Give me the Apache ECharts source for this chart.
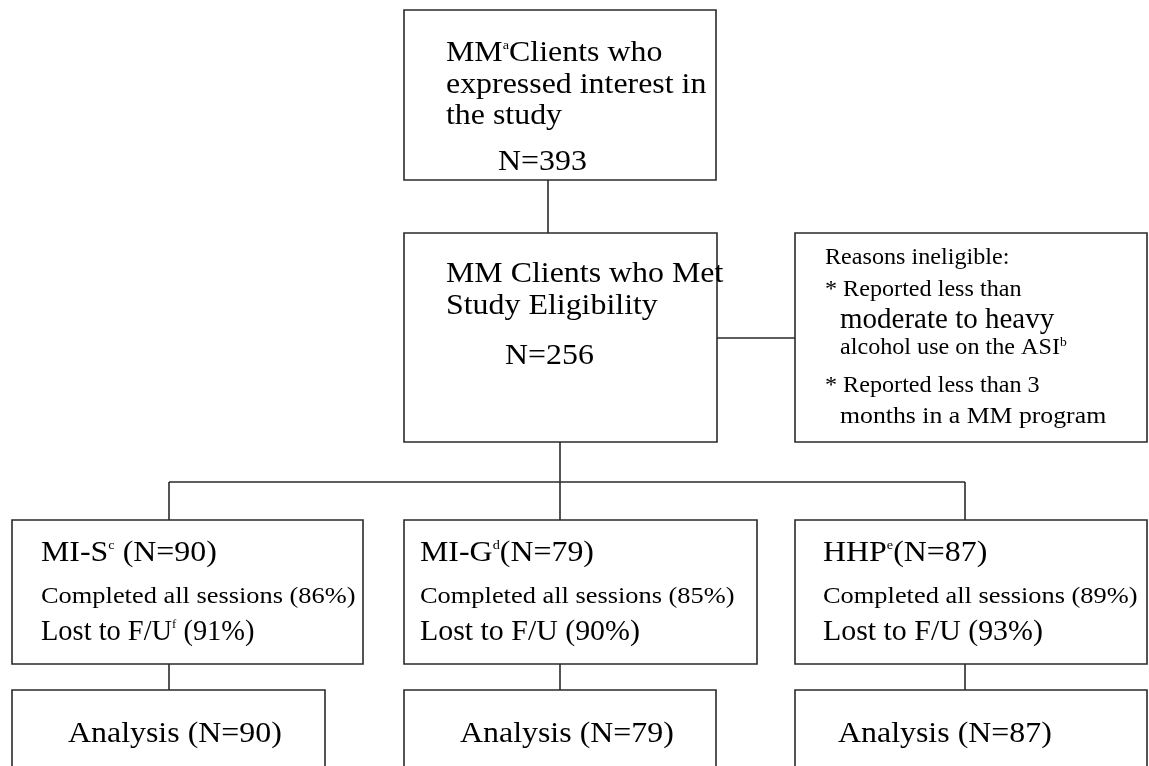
<!DOCTYPE html>
<html>
<head>
<meta charset="utf-8">
<script src="https://cdn.jsdelivr.net/npm/echarts@6/dist/echarts.min.js"></script>
<style>
  html, body { margin: 0; padding: 0; background: #fff; }
  #main { width: 1149px; height: 766px; }
</style>
</head>
<body>
<div id="main"></div>
<script>
// flow numbers
var screenedN = 393;
var eligibleN = 256;
var arms = ['MI-S', 'MI-G', 'HHP'];
var armSup = ['c', 'd', 'e'];
var armN = [90, 79, 87];
var completedPct = [86, 85, 89];
var lostPct = [91, 90, 93];
var analysisN = [90, 79, 87];
var reasons = ['Reasons ineligible:', '* Reported less than', 'moderate to heavy',
  'alcohol use on the ASI', '* Reported less than 3', 'months in a MM program'];

var dom = document.getElementById('main');
var myChart = echarts.init(dom, null, { renderer: 'canvas' });

var FONT = '"Liberation Serif", "Times New Roman", serif';
var INK = '#000';
var EDGE = '#2a2a2a';
var SX = 1.1; // reference type is a bit wider than Times

var rich = {
  m: { fontFamily: FONT, fontSize: 29, color: INK },
  s: { fontFamily: FONT, fontSize: 13, color: INK, padding: [0, 0, 14, 0] },
  r: { fontFamily: FONT, fontSize: 24, color: INK },
  q: { fontFamily: FONT, fontSize: 23, color: INK },
  qs: { fontFamily: FONT, fontSize: 13, color: INK, padding: [0, 0, 10, 0] },
  big: { fontFamily: FONT, fontSize: 29, color: INK }
};

function box(x, y, w, h) {
  return { type: 'rect', shape: { x: x, y: y, width: w, height: h },
    style: { fill: '#fff', stroke: EDGE, lineWidth: 1.6 } };
}
function line(x1, y1, x2, y2) {
  return { type: 'line', shape: { x1: x1, y1: y1, x2: x2, y2: y2 },
    style: { stroke: EDGE, lineWidth: 1.6 } };
}
function txt(x, y, s, sx) {
  return { type: 'text', x: x, y: y, scaleX: sx || SX,
    style: { text: s, rich: rich, fill: INK, font: '29px ' + FONT, align: 'left', verticalAlign: 'middle' } };
}

var g = [];
// connectors
g.push(line(548, 180, 548, 233));
g.push(line(717, 338, 795, 338));
g.push(line(560, 442, 560, 482));
g.push(line(169, 482, 965, 482));

var armX = [12, 404, 795];
var armW = [351, 353, 352];
var armMid = [169, 560, 965];
var armPad = [29, 16, 28];
var anaW = [313, 312, 352];
var anaTextX = [68, 460, 838];

armMid.forEach(function (mx) {
  g.push(line(mx, 482, mx, 520));
  g.push(line(mx, 664, mx, 690));
});

// top box
g.push(box(404, 10, 312, 170));
g.push(txt(446, 53, '{m|MM}{s|a}{m|Clients who}'));
g.push(txt(446, 85, '{m|expressed interest in}'));
g.push(txt(446, 116, '{m|the study}'));
g.push(txt(498, 162, '{m|N=' + screenedN + '}'));

// eligibility box
g.push(box(404, 233, 313, 209));
g.push(txt(446, 274, '{m|MM Clients who Met}'));
g.push(txt(446, 306, '{m|Study Eligibility}'));
g.push(txt(505, 356, '{m|N=' + eligibleN + '}'));

// reasons box
g.push(box(795, 233, 352, 209));
g.push(txt(825, 258, '{q|' + reasons[0] + '}', 1.05));
g.push(txt(825, 290, '{q|' + reasons[1] + '}', 1.05));
g.push(txt(840, 320, '{big|' + reasons[2] + '}', 1.0));
g.push(txt(840, 348, '{q|' + reasons[3] + '}{qs|b}', 1.05));
g.push(txt(825, 386, '{q|' + reasons[4] + '}', 1.05));
g.push(txt(840, 417, '{q|' + reasons[5] + '}', 1.12));

// arm boxes
arms.forEach(function (a, i) {
  var x = armX[i];
  var tx = x + armPad[i];
  g.push(box(x, 520, armW[i], 144));
  var gap = i === 0 ? ' ' : '';
  var fu = i === 0 ? '{m|Lost to F/U}{s|f}{m| (' + lostPct[i] + '%)}' : '{m|Lost to F/U (' + lostPct[i] + '%)}';
  g.push(txt(tx, 553, '{m|' + a + '}{s|' + armSup[i] + '}{m|' + gap + '(N=' + armN[i] + ')}'));
  g.push(txt(tx, 597, '{r|Completed all sessions (' + completedPct[i] + '%)}'));
  g.push(txt(tx, 632, fu, i === 0 ? 0.98 : 1.03));
  g.push(box(x, 690, anaW[i], 100));
  g.push(txt(anaTextX[i], 734, '{m|Analysis (N=' + analysisN[i] + ')}'));
});

var option = {
  backgroundColor: '#fff',
  animation: false,
  graphic: g
};

myChart.setOption(option);

window.addEventListener('resize', function () {
  myChart.resize();
});
</script>
</body>
</html>
